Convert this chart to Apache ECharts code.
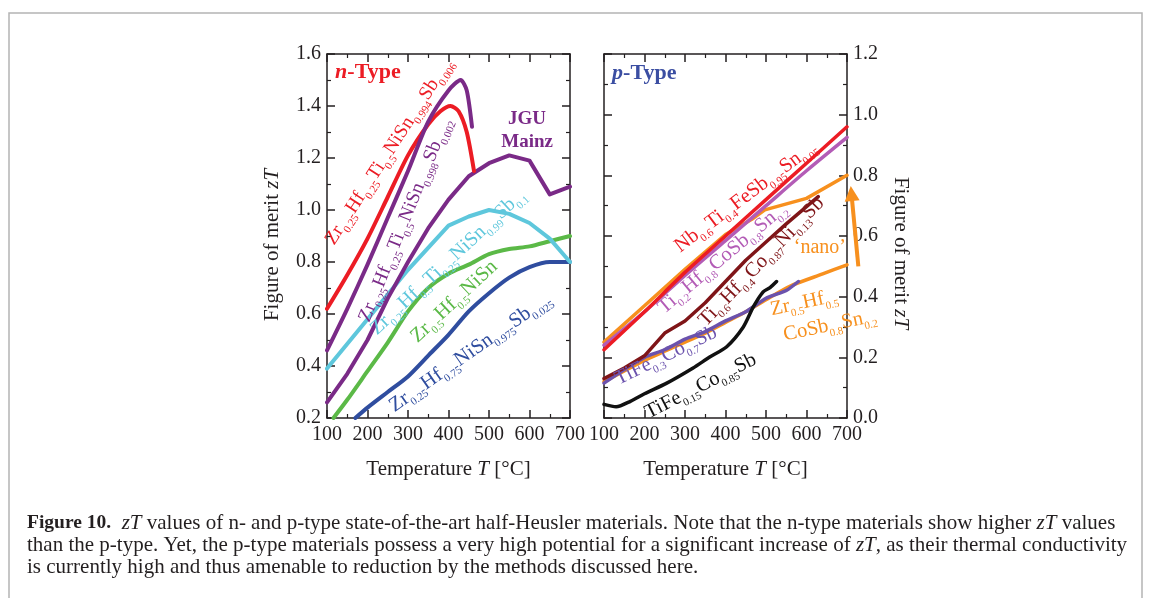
<!DOCTYPE html>
<html><head><meta charset="utf-8">
<script src="https://cdn.jsdelivr.net/npm/echarts@6/dist/echarts.min.js"></script>
<style>html,body{margin:0;padding:0;background:#fff}#c{width:1153px;height:598px}</style>
</head><body><div id="c"></div>
<script>
// ---------- tick labels ----------
const xTicks = [100, 200, 300, 400, 500, 600, 700];
const nYTicks = [0.2, 0.4, 0.6, 0.8, 1.0, 1.2, 1.4, 1.6];
const pYTicks = [0.0, 0.2, 0.4, 0.6, 0.8, 1.0, 1.2];

// ---------- n-type (left panel) ----------
const nRedT = [100, 150, 200, 250, 300, 350, 380, 405, 425, 445, 463];
const nRedZ = [0.62, 0.75, 0.89, 1.05, 1.21, 1.33, 1.38, 1.40, 1.38, 1.30, 1.15];
const nPurT = [100, 150, 200, 250, 300, 350, 400, 430, 445, 458];
const nPurZ = [0.46, 0.62, 0.79, 0.97, 1.15, 1.34, 1.46, 1.50, 1.46, 1.32];
const jguT = [100, 150, 200, 250, 300, 350, 400, 450, 500, 550, 600, 650, 700];
const jguZ = [0.26, 0.37, 0.50, 0.66, 0.80, 0.93, 1.04, 1.13, 1.18, 1.21, 1.19, 1.06, 1.09];
const cyanT = [100, 200, 300, 400, 450, 500, 550, 600, 650, 700];
const cyanZ = [0.39, 0.58, 0.77, 0.94, 0.975, 1.00, 0.985, 0.95, 0.89, 0.80];
const greenT = [116, 150, 200, 250, 300, 350, 400, 450, 500, 550, 600, 650, 700];
const greenZ = [0.20, 0.27, 0.38, 0.49, 0.61, 0.70, 0.755, 0.79, 0.83, 0.85, 0.86, 0.88, 0.90];
const blueT = [170, 200, 250, 300, 350, 400, 450, 500, 550, 600, 650, 700];
const blueZ = [0.20, 0.24, 0.30, 0.36, 0.44, 0.52, 0.61, 0.68, 0.74, 0.78, 0.80, 0.80];

// ---------- p-type (right panel) ----------
const pRedT = [100, 200, 300, 400, 500, 600, 700];
const pRedZ = [0.225, 0.35, 0.48, 0.60, 0.72, 0.84, 0.96];
const pPinkT = [100, 200, 300, 400, 500, 600, 700];
const pPinkZ = [0.24, 0.35, 0.47, 0.585, 0.70, 0.815, 0.925];
const pNanoT = [100, 200, 300, 400, 465, 497, 600, 700];
const pNanoZ = [0.25, 0.37, 0.49, 0.605, 0.655, 0.686, 0.724, 0.80];
const pDarkT = [100, 150, 200, 250, 300, 350, 400, 450, 500, 550, 629];
const pDarkZ = [0.13, 0.165, 0.205, 0.28, 0.32, 0.38, 0.45, 0.52, 0.58, 0.64, 0.73];
const pOrT = [100, 150, 200, 250, 300, 350, 400, 450, 500, 560, 640, 700];
const pOrZ = [0.12, 0.155, 0.19, 0.22, 0.25, 0.28, 0.315, 0.35, 0.39, 0.435, 0.475, 0.505];
const pPurT = [100, 150, 200, 250, 300, 350, 400, 450, 500, 530, 550, 580];
const pPurZ = [0.115, 0.16, 0.20, 0.225, 0.26, 0.285, 0.32, 0.35, 0.395, 0.41, 0.42, 0.45];
const pBlkT = [100, 130, 165, 200, 255, 320, 360, 403, 444, 469, 493, 510, 526];
const pBlkZ = [0.045, 0.037, 0.055, 0.08, 0.115, 0.165, 0.20, 0.235, 0.30, 0.367, 0.416, 0.43, 0.45];
const arrowFrom = [728, 0.50];
const arrowTo = [711, 0.74];

const INK = '#231f20';
const SERIF = 'Liberation Serif, Times New Roman, serif';
const C = {
  red: '#ec1c24', purple: '#7a2a87', cyan: '#5ec7dc', green: '#5bb947', blue: '#2f4d9f',
  pred: '#ec1c24', pink: '#b35cb6', orange: '#f7901e', dark: '#7f1518', ppur: '#6b52ad', black: '#111111',
  ptype: '#3b4ea2'
};

const zip = (a, b) => a.map((v, i) => [v, b[i]]);

function xAx(grid, pos, showLabel) {
  return {
    type: 'value', gridIndex: grid, position: pos, min: 100, max: 700, interval: 100,
    axisLine: { show: true, onZero: false, lineStyle: { color: INK, width: 1.5 } },
    axisTick: { show: true, inside: true, length: 8, lineStyle: { color: INK, width: 1.5 } },
    minorTick: { show: true, splitNumber: 2, length: 4, lineStyle: { color: INK, width: 1.2 } },
    splitLine: { show: false }, minorSplitLine: { show: false },
    axisLabel: { show: showLabel, fontFamily: SERIF, fontSize: 20, color: INK, margin: 7,
      formatter: v => xTicks.includes(v) ? String(v) : '' }
  };
}
function yAx(grid, pos, showLabel, min, max, ticks) {
  return {
    type: 'value', gridIndex: grid, position: pos, min: min, max: max, interval: 0.2,
    axisLine: { show: true, onZero: false, lineStyle: { color: INK, width: 1.5 } },
    axisTick: { show: true, inside: true, length: 8, lineStyle: { color: INK, width: 1.5 } },
    minorTick: { show: true, splitNumber: 2, length: 4, lineStyle: { color: INK, width: 1.2 } },
    splitLine: { show: false }, minorSplitLine: { show: false },
    axisLabel: { show: showLabel, fontFamily: SERIF, fontSize: 20, color: INK, margin: 6,
      formatter: v => { const t = ticks.find(k => Math.abs(k - v) < 1e-6); return t === undefined ? '' : t.toFixed(1); } }
  };
}
function ser(T, Z, color, width, xi, yi, smooth) {
  return {
    type: 'line', xAxisIndex: xi, yAxisIndex: yi, data: zip(T, Z), showSymbol: false, symbol: 'none',
    smooth: smooth ? 0.25 : false, lineStyle: { color: color, width: width, cap: 'round', join: 'round' },
    clip: true, silent: true
  };
}

const chart = echarts.init(document.getElementById('c'), null, { renderer: 'canvas' });
const option = {
  animation: false,
  backgroundColor: '#ffffff',
  grid: [
    { left: 327, top: 54, width: 243, height: 364 },
    { left: 604, top: 54, width: 243, height: 364 }
  ],
  xAxis: [xAx(0, 'bottom', true), xAx(0, 'top', false), xAx(1, 'bottom', true), xAx(1, 'top', false)],
  yAxis: [yAx(0, 'left', true, 0.2, 1.6, nYTicks), yAx(0, 'right', false, 0.2, 1.6, nYTicks),
          yAx(1, 'right', true, 0, 1.2, pYTicks), yAx(1, 'left', false, 0, 1.2, pYTicks)],
  series: [
    ser(blueT, blueZ, C.blue, 4, 0, 0, true),
    ser(greenT, greenZ, C.green, 4, 0, 0, true),
    ser(cyanT, cyanZ, C.cyan, 4, 0, 0, false),
    ser(jguT, jguZ, C.purple, 4, 0, 0, false),
    ser(nRedT, nRedZ, C.red, 4, 0, 0, true),
    ser(nPurT, nPurZ, C.purple, 4, 0, 0, true),

    ser(pOrT, pOrZ, C.orange, 3.5, 2, 2, true),
    ser(pPurT, pPurZ, C.ppur, 3.5, 2, 2, true),
    ser(pBlkT, pBlkZ, C.black, 3.5, 2, 2, true),
    ser(pDarkT, pDarkZ, C.dark, 3.5, 2, 2, false),
    ser(pNanoT, pNanoZ, C.orange, 3.5, 2, 2, false),
    ser(pPinkT, pPinkZ, C.pink, 3.5, 2, 2, true),
    ser(pRedT, pRedZ, C.pred, 3.5, 2, 2, true),
    {
      type: 'lines', coordinateSystem: 'cartesian2d', xAxisIndex: 2, yAxisIndex: 2, clip: false, silent: true,
      symbol: ['none', 'triangle'], symbolSize: 15,
      lineStyle: { color: C.orange, width: 4, opacity: 1 },
      data: [{ coords: [arrowFrom, arrowTo] }]
    }
  ]
};
chart.setOption(option);

// ---------- annotations ----------
function richText(s) {
  return s.split(/(_\{[^}]*\})/).filter(p => p.length).map(p =>
    p.startsWith('_{') ? '{s|' + p.slice(2, -1) + '}' : '{m|' + p + '}').join('');
}
function label(panel, T, Z, text, color, angle, size) {
  size = size || 20.5;
  const sub = Math.round(size * 0.55);
  const px = chart.convertToPixel({ xAxisIndex: panel === 0 ? 0 : 2, yAxisIndex: panel === 0 ? 0 : 2 }, [T, Z]);
  return {
    type: 'text', x: px[0], y: px[1], rotation: (angle || 0) * Math.PI / 180, silent: true, z: 100,
    style: {
      text: richText(text), align: 'center', verticalAlign: 'middle', fill: color,
      fontFamily: SERIF, fontSize: size,
      rich: {
        m: { fontFamily: SERIF, fontSize: size, fill: color, lineHeight: 28 },
        s: { fontFamily: SERIF, fontSize: sub, fill: color, lineHeight: 12, padding: [16, 0, 0, 0] }
      }
    }
  };
}
function plainLabel(panel, T, Z, text, color, opts) {
  const px = chart.convertToPixel({ xAxisIndex: panel === 0 ? 0 : 2, yAxisIndex: panel === 0 ? 0 : 2 }, [T, Z]);
  return {
    type: 'text', x: px[0], y: px[1], silent: true, z: 100,
    style: Object.assign({ text: text, fill: color, fontFamily: SERIF, fontSize: 19,
      align: 'center', verticalAlign: 'middle' }, opts || {})
  };
}
function typeTitle(panel, T, Z, letter, color) {
  return plainLabel(panel, T, Z, '{i|' + letter + '}{b|-Type}', color, { align: 'left',
    rich: { i: { fontFamily: SERIF, fontSize: 22, fontWeight: 'bold', fontStyle: 'italic', fill: color },
            b: { fontFamily: SERIF, fontSize: 22, fontWeight: 'bold', fill: color } } });
}
const titleRich = {
  r: { fontFamily: SERIF, fontSize: 21, fill: INK },
  i: { fontFamily: SERIF, fontSize: 21, fontStyle: 'italic', fill: INK }
};

const graphics = [
  { type: 'rect', shape: { x: 9, y: 13, width: 1133, height: 640 }, silent: true, z: -10,
    style: { fill: 'none', stroke: '#b4b4b4', lineWidth: 1.5 } },

  typeTitle(0, 120, 1.531, 'n', C.red),
  typeTitle(1, 120, 1.137, 'p', C.ptype),

  // n-type labels
  label(0, 253, 1.225, 'Zr_{0.25}Hf_{0.25}Ti_{0.5}NiSn_{0.994}Sb_{0.006}', C.red, 57, 19.5),
  label(0, 293, 0.962, 'Zr_{0.25}Hf_{0.25}Ti_{0.5}NiSn_{0.998}Sb_{0.002}', C.purple, 68, 19.5),
  plainLabel(0, 594, 1.304, 'JGU\nMainz', C.purple, { fontWeight: 'bold', lineHeight: 23 }),
  label(0, 399, 0.80, 'Zr_{0.25}Hf_{0.5}Ti_{0.25}NiSn_{0.99}Sb_{0.1}', C.cyan, 43, 20),
  label(0, 414, 0.648, 'Zr_{0.5}Hf_{0.5}NiSn', C.green, 43),
  label(0, 454, 0.452, 'Zr_{0.25}Hf_{0.75}NiSn_{0.975}Sb_{0.025}', C.blue, 35),

  // p-type labels
  label(1, 450, 0.73, 'Nb_{0.6}Ti_{0.4}FeSb_{0.95}Sn_{0.05}', C.pred, 37),
  label(1, 393, 0.527, 'Ti_{0.2}Hf_{0.8}CoSb_{0.8}Sn_{0.2}', C.pink, 40),
  label(1, 489, 0.515, 'Ti_{0.6}Hf_{0.4}Co_{0.87}Ni_{0.13}Sb', C.dark, 46),
  plainLabel(1, 633, 0.56, '\u2018nano\u2019', C.orange, { fontSize: 20 }),
  label(1, 594, 0.38, 'Zr_{0.5}Hf_{0.5}', C.orange, 12),
  label(1, 658, 0.305, 'CoSb_{0.8}Sn_{0.2}', C.orange, 12),
  label(1, 253, 0.205, 'TiFe_{0.3}Co_{0.7}Sb', C.ppur, 26),
  label(1, 339, 0.105, 'TiFe_{0.15}Co_{0.85}Sb', C.black, 27),

  // axis titles
  { type: 'text', x: 448.5, y: 469, silent: true,
    style: { text: '{r|Temperature }{i|T}{r| [°C]}', align: 'center', verticalAlign: 'middle', rich: titleRich } },
  { type: 'text', x: 725.5, y: 469, silent: true,
    style: { text: '{r|Temperature }{i|T}{r| [°C]}', align: 'center', verticalAlign: 'middle', rich: titleRich } },
  { type: 'text', x: 272, y: 245, rotation: Math.PI / 2, silent: true,
    style: { text: '{r|Figure of merit }{i|zT}', align: 'center', verticalAlign: 'middle', rich: titleRich } },
  { type: 'text', x: 901, y: 253, rotation: -Math.PI / 2, silent: true,
    style: { text: '{r|Figure of merit }{i|zT}', align: 'center', verticalAlign: 'middle', rich: titleRich } }
];

// caption
const capRich = {
  r: { fontFamily: SERIF, fontSize: 21, fill: INK },
  b: { fontFamily: SERIF, fontSize: 19.5, fontWeight: 'bold', fill: INK },
  i: { fontFamily: SERIF, fontSize: 21, fontStyle: 'italic', fill: INK }
};
const capLines = [
  '{b|Figure 10.}{r|  }{i|zT}{r| values of n- and p-type state-of-the-art half-Heusler materials. Note that the n-type materials show higher }{i|zT}{r| values}',
  '{r|than the p-type. Yet, the p-type materials possess a very high potential for a significant increase of }{i|zT}{r|, as their thermal conductivity}',
  '{r|is currently high and thus amenable to reduction by the methods discussed here.}'
];
capLines.forEach((t, i) => graphics.push({
  type: 'text', x: 27, y: 523 + i * 22, silent: true,
  style: { text: t, align: 'left', verticalAlign: 'middle', rich: capRich }
}));

chart.setOption({ graphic: graphics });
</script>
</body></html>
